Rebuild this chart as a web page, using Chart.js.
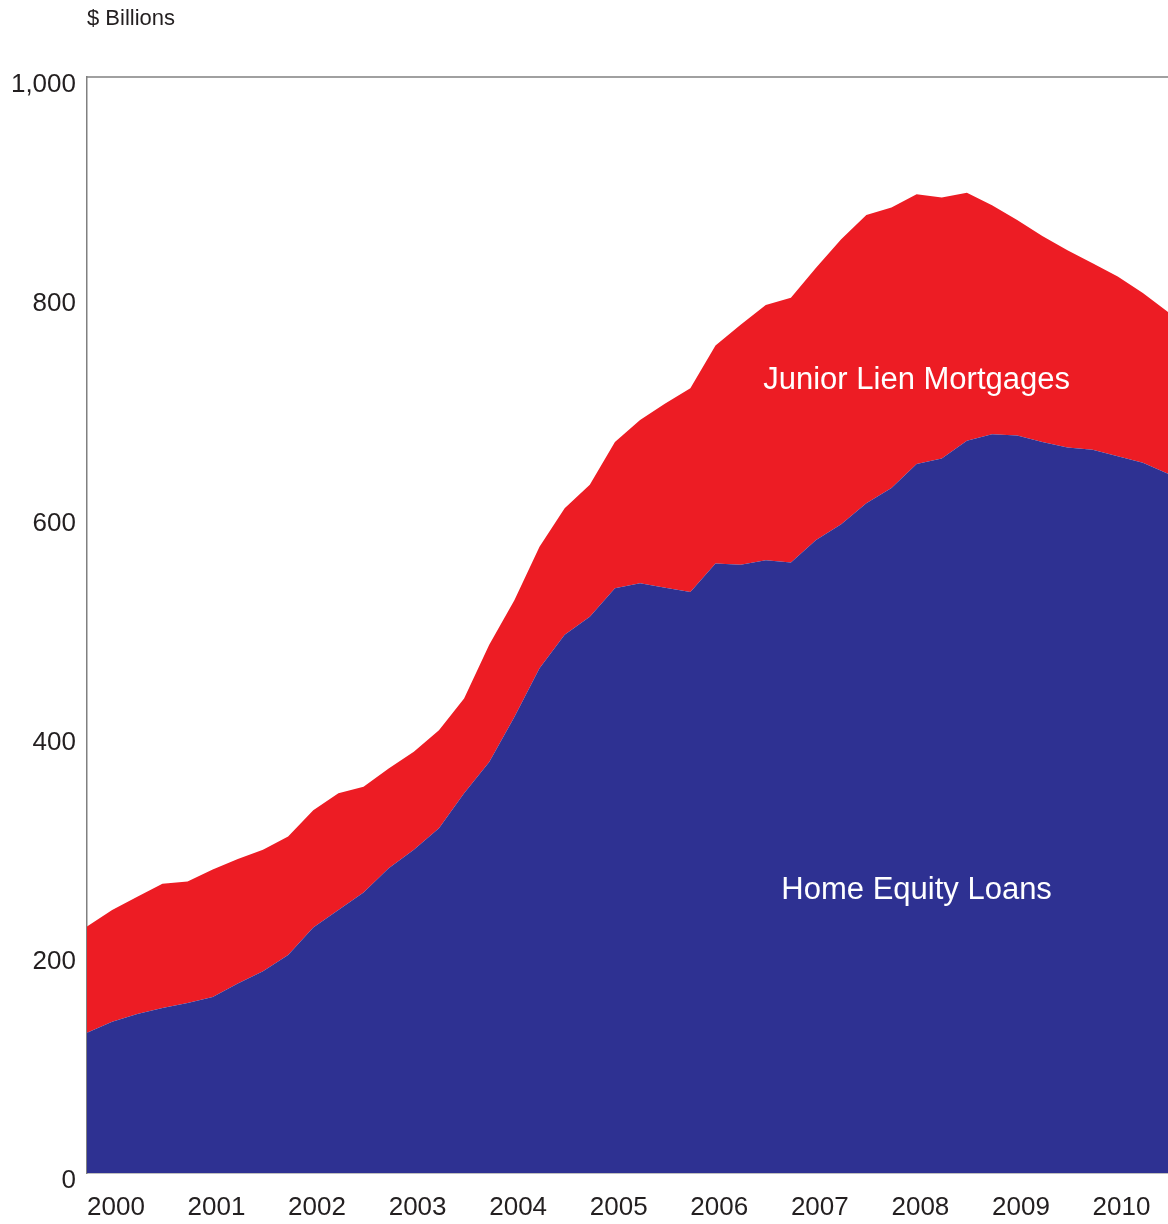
<!DOCTYPE html>
<html>
<head>
<meta charset="utf-8">
<script src="https://cdn.jsdelivr.net/npm/chart.js@4.4.1/dist/chart.umd.min.js"></script>
<style>
html,body{margin:0;padding:0;background:#fff;}
#wrap{position:relative;width:1168px;height:1224px;}
</style>
</head>
<body>
<div id="wrap"><canvas id="c" width="1168" height="1224"></canvas></div>
<script>
const years = ["2000","2001","2002","2003","2004","2005","2006","2007","2008","2009","2010"];
const quarters = ["Q1","Q2","Q3","Q4"];
const yTicks = [0,200,400,600,800,1000];
const unitLabel = "$ Billions";
const seriesNames = ["Home Equity Loans","Junior Lien Mortgages"];

const homeEquity = [128,138,145,150.5,155,160.5,173,184,199,224,240,256,278,295,314.5,346.5,375,416,460.5,491,507.5,533.5,538,534,530,556,555,559,557,577.5,592,611,625,647,652,668,674,673,667,662,660,654,648,638];
const juniorLien = [97,102,107,113.5,111,116.5,113.5,111,108,107,106.4,96.5,91,89.4,89.5,86.5,107,106.5,111,115.5,120.5,133.5,149,168,186,199,219,233,241.6,248.5,260,263,256,246,238,226.5,209,196.5,188,180,170,164,155,147.6];

const labels = [];
years.forEach(y => quarters.forEach(q => labels.push(y + " " + q)));

const FONT = "'Liberation Sans', Arial, sans-serif";
const TEXT = "#231F20";

const decor = {
  id: 'decor',
  afterDraw(chart) {
    const {ctx, chartArea: a, scales} = chart;
    ctx.save();
    ctx.strokeStyle = '#808080';
    ctx.lineWidth = 1.5;
    ctx.beginPath();
    ctx.moveTo(a.left, a.top);
    ctx.lineTo(a.right, a.top);
    ctx.stroke();
    ctx.fillStyle = TEXT;
    ctx.font = "22px " + FONT;
    ctx.textAlign = 'left';
    ctx.textBaseline = 'middle';
    ctx.fillText(unitLabel, a.left, 19);
    ctx.fillStyle = '#ffffff';
    ctx.font = "31px " + FONT;
    ctx.textAlign = 'center';
    const xc = scales.x.getPixelForValue(33);
    ctx.fillText(seriesNames[1], xc, scales.y.getPixelForValue(723));
    ctx.fillText(seriesNames[0], xc, scales.y.getPixelForValue(258));
    ctx.restore();
  }
};

new Chart(document.getElementById('c'), {
  type: 'line',
  data: {
    labels: labels,
    datasets: [
      {label: seriesNames[0], data: homeEquity, backgroundColor: '#2E3192', borderWidth: 0, pointRadius: 0, fill: 'origin', tension: 0},
      {label: seriesNames[1], data: juniorLien, backgroundColor: '#ED1C24', borderWidth: 0, pointRadius: 0, fill: '-1', tension: 0}
    ]
  },
  options: {
    responsive: false,
    animation: false,
    devicePixelRatio: 1,
    layout: {padding: {top: 77, right: 0, left: 0, bottom: 0}},
    plugins: {legend: {display: false}, tooltip: {enabled: false}},
    scales: {
      x: {
        stacked: true,
        offset: false,
        grid: {display: false, drawTicks: false},
        border: {display: true, color: '#808080', width: 1.5},
        ticks: {
          autoSkip: false, maxRotation: 0, minRotation: 0, align: 'start', padding: 19,
          color: TEXT, font: {family: FONT, size: 26},
          callback: (v, i) => (i % 4 === 0 ? years[i / 4] : '')
        },
        afterFit: s => { s.height = 51; s.paddingLeft = 0; s.paddingRight = 0; }
      },
      y: {
        stacked: true,
        min: 0, max: 1000,
        grid: {display: false, drawTicks: false},
        border: {display: true, color: '#808080', width: 1.5},
        afterBuildTicks: s => { s.ticks = yTicks.map(v => ({value: v})); },
        ticks: {
          padding: 11, labelOffset: 8, color: TEXT, font: {family: FONT, size: 26},
          callback: v => v.toLocaleString('en-US')
        },
        afterFit: s => { s.width = 87; s.paddingTop = 0; s.paddingBottom = 0; }
      }
    }
  },
  plugins: [decor]
});
</script>
</body>
</html>
